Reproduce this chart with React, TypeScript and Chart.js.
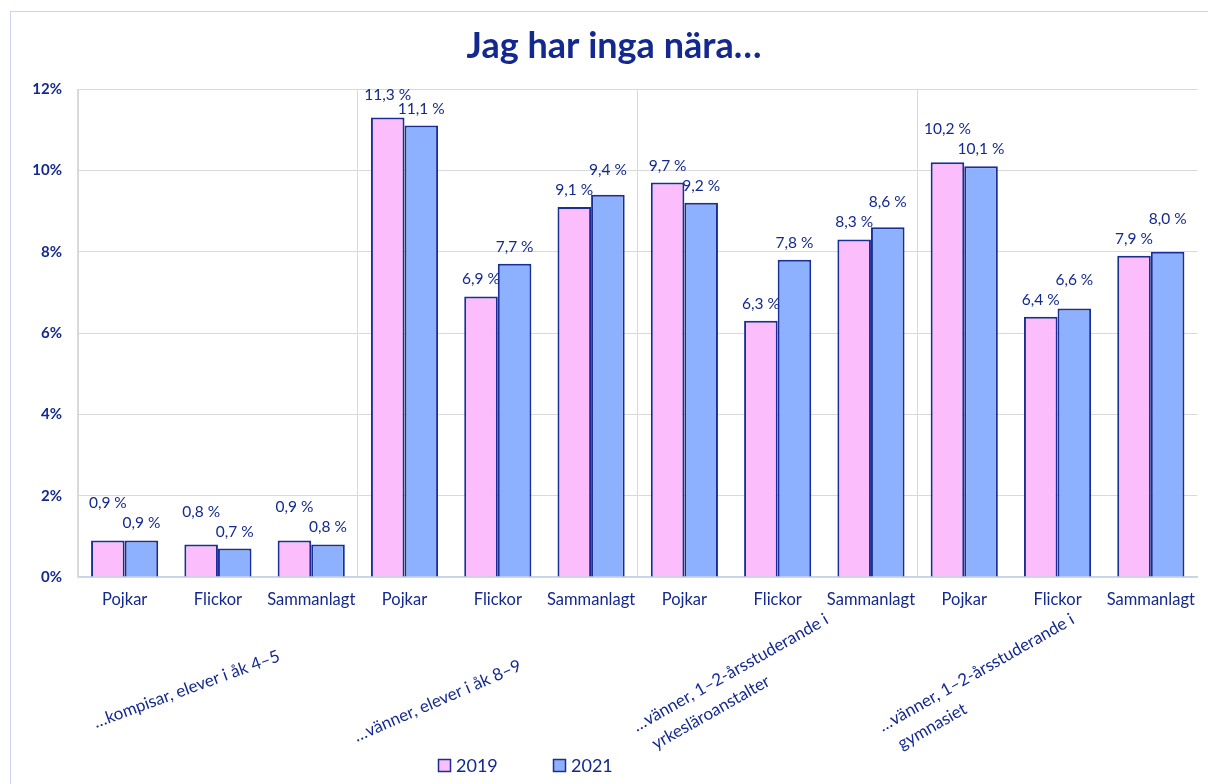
import React, { useEffect, useRef } from "react";
import { Chart, registerables } from "chart.js";

Chart.register(...registerables);

const TITLE = "Jag har inga nära…";
const CATEGORIES = [
  "Pojkar", "Flickor", "Sammanlagt",
  "Pojkar", "Flickor", "Sammanlagt",
  "Pojkar", "Flickor", "Sammanlagt",
  "Pojkar", "Flickor", "Sammanlagt",
];
const GROUPS: string[][] = [
  ["…kompisar, elever i åk 4–5"],
  ["…vänner, elever i åk 8–9"],
  ["…vänner, 1–2-årsstuderande i", "yrkesläroanstalter"],
  ["…vänner, 1–2-årsstuderande i", "gymnasiet"],
];
const SERIES_2019 = [0.9, 0.8, 0.9, 11.3, 6.9, 9.1, 9.7, 6.3, 8.3, 10.2, 6.4, 7.9];
const SERIES_2021 = [0.9, 0.7, 0.8, 11.1, 7.7, 9.4, 9.2, 7.8, 8.6, 10.1, 6.6, 8.0];
const SERIES_LABELS = ["2019", "2021"];
const Y_TICKS = [0, 2, 4, 6, 8, 10, 12];

// styles
const NAVY = "#14298f";
const PINK = "#fbbdfb";
const BLUE = "#8eb1ff";
const BORDER = "#1a2e96";
const GRID = "#d9d9d9";
const FONT = "Lato, 'Open Sans', sans-serif";
// group label placement (style): start offset from group centre, baseline y, angle
const GROUP_STYLE = [
  { dx: -122, y: 728, angle: -20 },
  { dx: -141, y: 742, angle: -23.5 },
  { dx: -141, y: 732, angle: -29.5 },
  { dx: -175, y: 732, angle: -29.5 },
];

const fmt = (v: number) => v.toFixed(1).replace(".", ",") + " %";

const decorPlugin = {
  id: "decor",
  afterDatasetsDraw(chart: any) {
    const ctx = chart.ctx;
    const m0 = chart.getDatasetMeta(0);
    const m1 = chart.getDatasetMeta(1);
    ctx.save();
    ctx.fillStyle = NAVY;
    ctx.font = `15.5px ${FONT}`;
    ctx.textAlign = "center";
    ctx.textBaseline = "middle";
    for (let i = 0; i < CATEGORIES.length; i++) {
      const b0 = m0.data[i];
      const b1 = m1.data[i];
      let y0 = b0.y - 17;
      let y1 = b1.y - 17;
      if (Math.abs(y0 - y1) < 14) {
        if (SERIES_2019[i] >= SERIES_2021[i]) y0 = y1 - 20;
        else y1 = y0 - 20;
      }
      y0 = Math.max(y0, 95);
      y1 = Math.max(y1, 95);
      ctx.fillText(fmt(SERIES_2019[i]), b0.x, y0);
      ctx.fillText(fmt(SERIES_2021[i]), b1.x, y1);
    }
    ctx.restore();
  },
  afterDraw(chart: any) {
    const ctx = chart.ctx;
    const xs = chart.scales.x;
    ctx.save();
    // title
    ctx.fillStyle = NAVY;
    ctx.font = `bold 36px ${FONT}`;
    ctx.textAlign = "center";
    ctx.textBaseline = "alphabetic";
    ctx.fillText(TITLE, 614, 58);
    // group labels
    ctx.font = `17px ${FONT}`;
    ctx.textAlign = "left";
    GROUPS.forEach((lines, g) => {
      const cx = (xs.getPixelForValue(g * 3) + xs.getPixelForValue(g * 3 + 2)) / 2;
      const st = GROUP_STYLE[g];
      ctx.save();
      ctx.translate(cx + st.dx, st.y);
      ctx.rotate((st.angle * Math.PI) / 180);
      lines.forEach((ln, k) => ctx.fillText(ln, k * 8, k * 25));
      ctx.restore();
    });
    // legend
    const items = [
      { label: SERIES_LABELS[0], color: PINK, x: 438 },
      { label: SERIES_LABELS[1], color: BLUE, x: 553 },
    ];
    ctx.font = `18px ${FONT}`;
    ctx.textBaseline = "middle";
    items.forEach((it) => {
      ctx.fillStyle = it.color;
      ctx.fillRect(it.x, 759, 12, 12);
      ctx.strokeStyle = BORDER;
      ctx.lineWidth = 1.5;
      ctx.strokeRect(it.x + 0.5, 759.5, 12, 12);
      ctx.fillStyle = NAVY;
      ctx.fillText(it.label, it.x + 18, 766);
    });
    ctx.restore();
  },
};

export default function App() {
  const ref = useRef<HTMLCanvasElement>(null);
  useEffect(() => {
    if (!ref.current) return;
    const chart = new Chart(ref.current, {
      type: "bar",
      data: {
        labels: CATEGORIES,
        datasets: [
          {
            label: SERIES_LABELS[0],
            data: SERIES_2019,
            backgroundColor: PINK,
            borderColor: BORDER,
            borderWidth: 2,
            categoryPercentage: 0.72,
            barPercentage: 1,
          },
          {
            label: SERIES_LABELS[1],
            data: SERIES_2021,
            backgroundColor: BLUE,
            borderColor: BORDER,
            borderWidth: 2,
            categoryPercentage: 0.72,
            barPercentage: 1,
          },
        ],
      },
      options: {
        responsive: false,
        animation: false,
        layout: { padding: { top: 89, right: 2, left: 0, bottom: 0 } },
        plugins: {
          legend: { display: false },
          tooltip: { enabled: false },
          title: { display: false },
        },
        scales: {
          x: {
            afterFit: (s: any) => {
              s.height = 207;
            },
            grid: {
              drawTicks: false,
              color: (c: any) => (c.index % 3 === 0 ? GRID : "rgba(0,0,0,0)"),
              lineWidth: 1,
            },
            border: { display: true, color: "#c8d4e4", width: 1.5 },
            ticks: {
              autoSkip: false,
              maxRotation: 0,
              padding: 13,
              color: NAVY,
              font: { family: FONT, size: 16.5 },
            },
          },
          y: {
            min: 0,
            max: 12,
            afterFit: (s: any) => {
              s.width = 78;
            },
            afterBuildTicks: (s: any) => {
              s.ticks = Y_TICKS.map((v) => ({ value: v }));
            },
            grid: { drawTicks: false, color: GRID },
            border: { display: true, color: GRID },
            ticks: {
              padding: 16,
              color: NAVY,
              font: { family: FONT, size: 15, weight: "bold" },
              callback: (v: any) => `${v}%`,
            },
          },
        },
      },
      plugins: [decorPlugin],
    });
    return () => chart.destroy();
  }, []);
  return (
    <div style={{ position: "absolute", left: 0, top: 0, width: 1208, height: 784, background: "#fff", overflow: "hidden" }}>
      <div
        style={{
          position: "absolute",
          left: 10,
          top: 11,
          width: 1300,
          height: 900,
          borderLeft: "1px solid #c9d2f7",
          borderTop: "1px solid #c9d2f7",
        }}
      />
      <canvas ref={ref} width={1208} height={784} style={{ position: "absolute", left: 0, top: 0 }} />
    </div>
  );
}
